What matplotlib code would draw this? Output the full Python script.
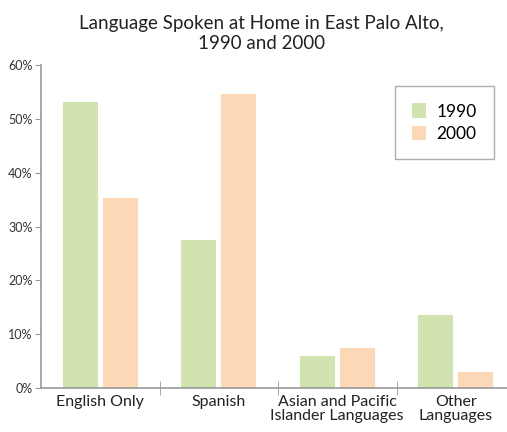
import matplotlib
matplotlib.use("Agg")
import matplotlib.pyplot as plt
import numpy as np

categories = ["English Only", "Spanish", "Asian and Pacific\nIslander Languages", "Other\nLanguages"]
years = ["1990", "2000"]
pct_1990 = [53.1, 27.5, 6.0, 13.6]
pct_2000 = [35.3, 54.6, 7.5, 2.9]
colors = ["#d1e4b0", "#fcd8b6"]

plt.rcParams['font.family'] = ['Lato', 'DejaVu Sans']

fig = plt.figure(figsize=(5.07, 4.32), dpi=100)
ax = fig.add_axes([41/507, 44/432, 474/507, 323/432])

x = np.arange(len(categories))
w = 0.297
ax.bar(x - 0.17, pct_1990, w, color=colors[0], label=years[0])
ax.bar(x + 0.17, pct_2000, w, color=colors[1], label=years[1])

ax.set_xlim(-0.5, 3.5)
ax.set_ylim(0, 60)
ax.set_yticks(range(0, 61, 10))
ax.set_yticklabels([f"{v}%" for v in range(0, 61, 10)], fontsize=9, color="#333333")
ax.set_xticks(x)
ax.set_xticklabels(categories, fontsize=11.5, color="#222222", linespacing=1.05)
ax.tick_params(axis='x', length=0, pad=5)
ax.set_xticks([0.5, 1.5, 2.5], minor=True)
ax.tick_params(axis='x', which='minor', length=10, direction='inout', color="#999999")
ax.tick_params(axis='y', length=4, direction='out', color="#999999", pad=2)

for s in ["top", "right"]:
    ax.spines[s].set_visible(False)
for s in ["left", "bottom"]:
    ax.spines[s].set_color("#999999")
    ax.spines[s].set_linewidth(1.2)

leg = ax.legend(loc="upper left", bbox_to_anchor=(354/474, 302/323),
                fontsize=12.5, frameon=True, fancybox=False, borderaxespad=0,
                handlelength=0.8, handleheight=0.9, handletextpad=0.6,
                borderpad=1.0, labelspacing=0.35)
leg.get_frame().set_edgecolor("#999999")
leg.get_frame().set_linewidth(1.0)

fig.text(0.515, 0.965, "Language Spoken at Home in East Palo Alto,\n1990 and 2000",
         ha="center", va="top", fontsize=13.5, color="#222222", linespacing=1.2)

fig.savefig("out.png", dpi=100)
